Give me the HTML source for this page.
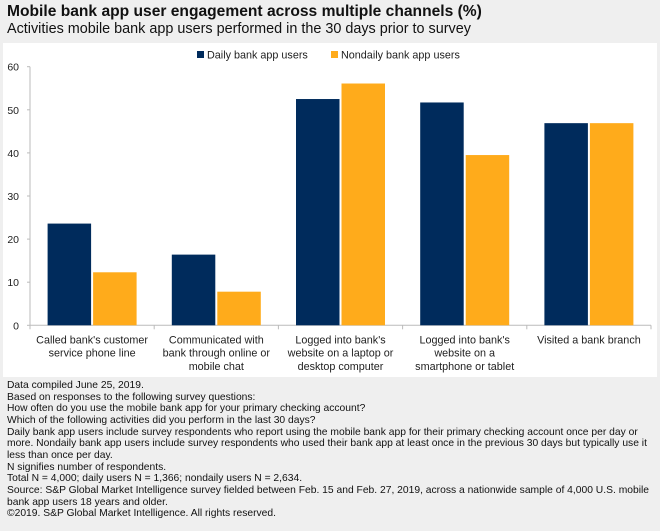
<!DOCTYPE html>
<html><head><meta charset="utf-8"><style>
body{margin:0;width:660px;height:531px;background:#efefef;font-family:"Liberation Sans",sans-serif;overflow:hidden;position:relative}
#title{position:absolute;left:7px;top:3px;font-size:15.6px;font-weight:bold;color:#111;white-space:nowrap}
#sub{position:absolute;left:7px;top:21px;font-size:14.4px;color:#111;white-space:nowrap}
#panel{position:absolute;left:3px;top:43px;width:654px;height:334px;background:#fff}
#notes{position:absolute;left:7px;top:380px;font-size:10.3px;line-height:11.65px;color:#111;white-space:nowrap}
</style></head><body>
<div id="title">Mobile bank app user engagement across multiple channels (%)</div>
<div id="sub">Activities mobile bank app users performed in the 30 days prior to survey</div>
<div id="panel"></div>
<svg id="chart" width="660" height="380" style="position:absolute;left:0;top:0"></svg>
<div id="notes">Data compiled June 25, 2019.<br>Based on responses to the following survey questions:<br>How often do you use the mobile bank app for your primary checking account?<br>Which of the following activities did you perform in the last 30 days?<br>Daily bank app users include survey respondents who report using the mobile bank app for their primary checking account once per day or<br>more. Nondaily bank app users include survey respondents who used their bank app at least once in the previous 30 days but typically use it<br>less than once per day.<br>N signifies number of respondents.<br>Total N = 4,000; daily users N = 1,366; nondaily users N = 2,634.<br>Source: S&amp;P Global Market Intelligence survey fielded between Feb. 15 and Feb. 27, 2019, across a nationwide sample of 4,000 U.S. mobile<br>bank app users 18 years and older.<br>©2019. S&amp;P Global Market Intelligence. All rights reserved.</div>
<script>
const categories=[["Called bank's customer","service phone line"],["Communicated with","bank through online or","mobile chat"],["Logged into bank's","website on a laptop or","desktop computer"],["Logged into bank's","website on a","smartphone or tablet"],["Visited a bank branch"]];
const daily=[23.6,16.4,52.5,51.7,46.9];
const nondaily=[12.3,7.8,56.1,39.5,46.9];
const yTicks=[0,10,20,30,40,50,60];
const seriesNames=["Daily bank app users","Nondaily bank app users"];
const colors=["#002b5c","#ffab1b"];
const svg=document.getElementById('chart');const NS="http://www.w3.org/2000/svg";
const x0=30,x1=651,y0=325.3,y1=66.7;
const gw=(x1-x0)/categories.length;
const y=v=>y0-(v/60)*(y0-y1);
function mk(t,a,txt){const e=document.createElementNS(NS,t);for(const k in a)e.setAttribute(k,a[k]);if(txt!==undefined)e.textContent=txt;svg.appendChild(e);return e;}
let e=mk('line',{x1:x0,y1:y1,x2:x0,y2:y0,stroke:'#bbb','stroke-width':1});


e=mk('line',{x1:x0,y1:y0,x2:x1,y2:y0,stroke:'#bbb','stroke-width':1});


yTicks.forEach(t=>{
 e=mk('text',{x:19,y:y(t)+4,'text-anchor':'end','font-size':'10.5px',fill:'#222'},t);
 
 
 mk('line',{x1:x0-3,y1:y(t),x2:x0,y2:y(t),stroke:'#bbb'});
});
for(let i=0;i<=categories.length;i++){mk('line',{x1:x0+gw*i,y1:y0,x2:x0+gw*i,y2:y0+4,stroke:'#bbb'});}
const bw=43.5;
[daily,nondaily].forEach((s,si)=>{
 s.forEach((v,i)=>{
  const cx=x0+gw*i+gw/2;
  const bx=si===0?cx-bw-1:cx+1;
  e=mk('rect',{x:bx,y:y(v),width:bw,height:y0-y(v),fill:colors[si]});
  
  
 });
});
categories.forEach((lines,i)=>{
 const cx=x0+gw*i+gw/2;
 lines.forEach((l,j)=>{
  e=mk('text',{x:cx,y:y0+18+j*13.3,'text-anchor':'middle','font-size':'10.8px',fill:'#222'},l);
  
  
 });
});
const lx=[197,331];
seriesNames.forEach((n,i)=>{
 e=mk('rect',{x:lx[i],y:51,width:7,height:7,fill:colors[i]});
 
 
 e=mk('text',{x:lx[i]+10,y:58.5,'font-size':'10.8px',fill:'#222'},n);
 
 
});
</script>
</body></html>
